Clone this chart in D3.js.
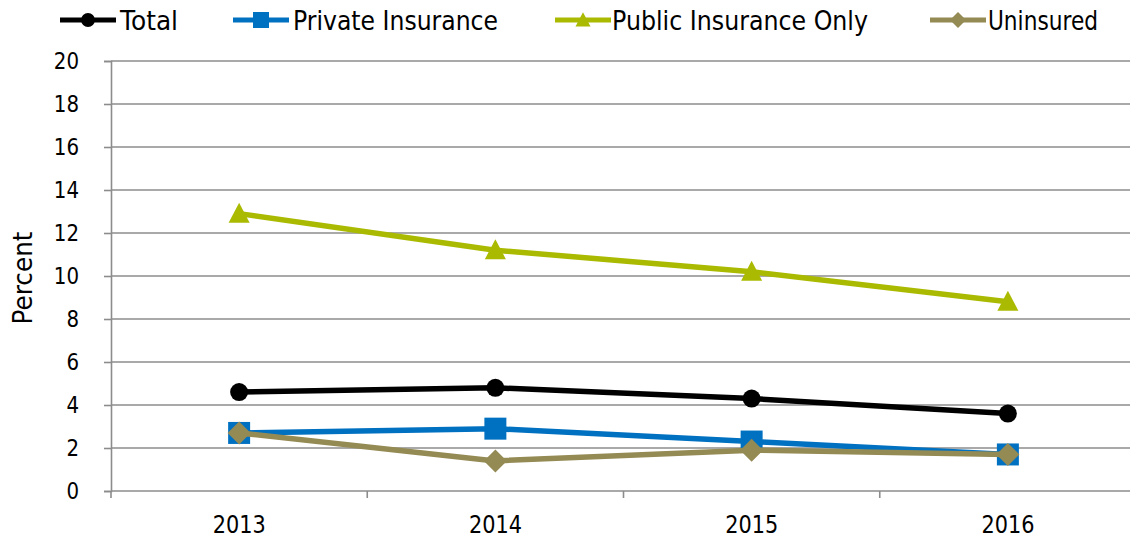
<!DOCTYPE html>
<html>
<head>
<meta charset="utf-8">
<script src="https://cdn.jsdelivr.net/npm/d3@7"></script>
<style>
  html, body { margin: 0; padding: 0; background: #fff; }
  svg { display: block; font-family: Tahoma, "DejaVu Sans", sans-serif; }
</style>
</head>
<body>
<svg id="chart" width="1130" height="538"></svg>
<script>
// Years on the x axis
const years = ["2013", "2014", "2015", "2016"];
// Percent values per insurance group
const totalValues = [4.6, 4.8, 4.3, 3.6];
const privateValues = [2.7, 2.9, 2.3, 1.7];
const publicValues = [12.9, 11.2, 10.2, 8.8];
const uninsuredValues = [2.7, 1.4, 1.9, 1.7];
// Y axis ticks
const yTicks = [0, 2, 4, 6, 8, 10, 12, 14, 16, 18, 20];
const yLabel = "Percent";

// Custom marker shapes: triangle with its base on the bottom, square diamond
const triangleType = {
  draw(ctx, size) {
    const w = Math.sqrt(size);
    const h = w * 0.95;
    ctx.moveTo(0, -h * 0.55);
    ctx.lineTo(w / 2, h * 0.45);
    ctx.lineTo(-w / 2, h * 0.45);
    ctx.closePath();
  }
};
const diamondType = {
  draw(ctx, size) {
    const r = Math.sqrt(size) / 2;
    ctx.moveTo(0, -r);
    ctx.lineTo(r, 0);
    ctx.lineTo(0, r);
    ctx.lineTo(-r, 0);
    ctx.closePath();
  }
};

const series = [
  { name: "Total", values: totalValues, color: "#000000", symbol: d3.symbolCircle, size: 254, legendSize: 150 },
  { name: "Private Insurance", values: privateValues, color: "#0070C0", symbol: d3.symbolSquare, size: 484, legendSize: 256 },
  { name: "Public Insurance Only", values: publicValues, color: "#AABA00", symbol: triangleType, size: 441, legendSize: 225 },
  { name: "Uninsured", values: uninsuredValues, color: "#948A54", symbol: diamondType, size: 529, legendSize: 256 }
];

const svg = d3.select("#chart");
const margin = { left: 111, right: -6, top: 61, bottom: 47 };
const W = 1130, H = 538;
const gridColor = "#8c8c8c";

const x = d3.scaleBand().domain(years).range([margin.left, W - margin.right]);
const y = d3.scaleLinear().domain([0, 20]).range([H - margin.bottom, margin.top]);

// Horizontal gridlines
svg.append("g")
  .selectAll("line")
  .data(yTicks.filter(t => t > 0))
  .join("line")
  .attr("x1", margin.left).attr("x2", W)
  .attr("y1", d => y(d)).attr("y2", d => y(d))
  .attr("stroke", gridColor).attr("stroke-width", 1.6);

// Y axis with condensed labels
const yAxis = svg.append("g")
  .attr("transform", `translate(${margin.left},0)`)
  .call(d3.axisLeft(y).tickValues(yTicks).tickSize(7).tickPadding(25));
yAxis.select(".domain").attr("stroke", gridColor).attr("stroke-width", 1.6);
yAxis.selectAll(".tick line").attr("stroke", gridColor).attr("stroke-width", 1.6);
yAxis.selectAll(".tick text")
  .attr("font-size", 23)
  .attr("fill", "#000")
  .attr("font-family", "'DejaVu Sans', sans-serif")
  .attr("dy", "0.34em")
  .attr("textLength", d => String(d).length * 12.6)
  .attr("lengthAdjust", "spacingAndGlyphs");

// X axis: baseline with ticks between categories
const xAxisG = svg.append("g").attr("transform", `translate(0,${y(0)})`);
xAxisG.append("line")
  .attr("x1", margin.left).attr("x2", W)
  .attr("stroke", gridColor).attr("stroke-width", 1.6);
const boundaries = years.map(yr => x(yr)).concat([x(years[years.length - 1]) + x.bandwidth()]);
xAxisG.selectAll("line.tick")
  .data(boundaries)
  .join("line").attr("class", "tick")
  .attr("x1", d => d).attr("x2", d => d)
  .attr("y1", 0).attr("y2", 7)
  .attr("stroke", gridColor).attr("stroke-width", 1.6);
xAxisG.selectAll("text")
  .data(years)
  .join("text")
  .attr("x", d => x(d) + x.bandwidth() / 2)
  .attr("y", 42)
  .attr("text-anchor", "middle")
  .attr("font-size", 24)
  .attr("font-family", "'DejaVu Sans', sans-serif")
  .attr("textLength", 53)
  .attr("lengthAdjust", "spacingAndGlyphs")
  .text(d => d);

// Y label
svg.append("text")
  .attr("transform", `translate(32,${(y(0) + y(20)) / 2 + 2}) rotate(-90)`)
  .attr("text-anchor", "middle")
  .attr("font-size", 26)
  .attr("font-family", "'DejaVu Sans', sans-serif")
  .attr("textLength", 93)
  .attr("lengthAdjust", "spacingAndGlyphs")
  .text(yLabel);

// Lines and markers
const cx = d => x(d) + x.bandwidth() / 2;
series.forEach(s => {
  const line = d3.line().x((d, i) => cx(years[i])).y(d => y(d));
  svg.append("path")
    .datum(s.values)
    .attr("d", line)
    .attr("fill", "none")
    .attr("stroke", s.color)
    .attr("stroke-width", 5.5)
    .attr("stroke-linejoin", "round");
  svg.append("g")
    .selectAll("path")
    .data(s.values)
    .join("path")
    .attr("transform", (d, i) => `translate(${cx(years[i])},${y(d)})`)
    .attr("d", d3.symbol().type(s.symbol).size(s.size))
    .attr("fill", s.color);
});

// Legend
const legendLineX = [60, 233, 555, 930];
const legendTextX = [120, 293, 612, 988];
const legendTextW = [58, 205, 256, 110];
const legend = svg.append("g");
series.forEach((s, i) => {
  const g = legend.append("g").attr("transform", `translate(${legendLineX[i]},20)`);
  g.append("line").attr("x1", 0).attr("x2", 56)
    .attr("stroke", s.color).attr("stroke-width", 5);
  g.append("path").attr("transform", "translate(28,0)")
    .attr("d", d3.symbol().type(s.symbol).size(s.legendSize))
    .attr("fill", s.color);
  legend.append("text")
    .attr("x", legendTextX[i]).attr("y", 30)
    .attr("font-size", 27)
    .attr("font-family", "'DejaVu Sans', sans-serif")
    .attr("textLength", legendTextW[i])
    .attr("lengthAdjust", "spacingAndGlyphs")
    .text(s.name);
});
</script>
</body>
</html>
